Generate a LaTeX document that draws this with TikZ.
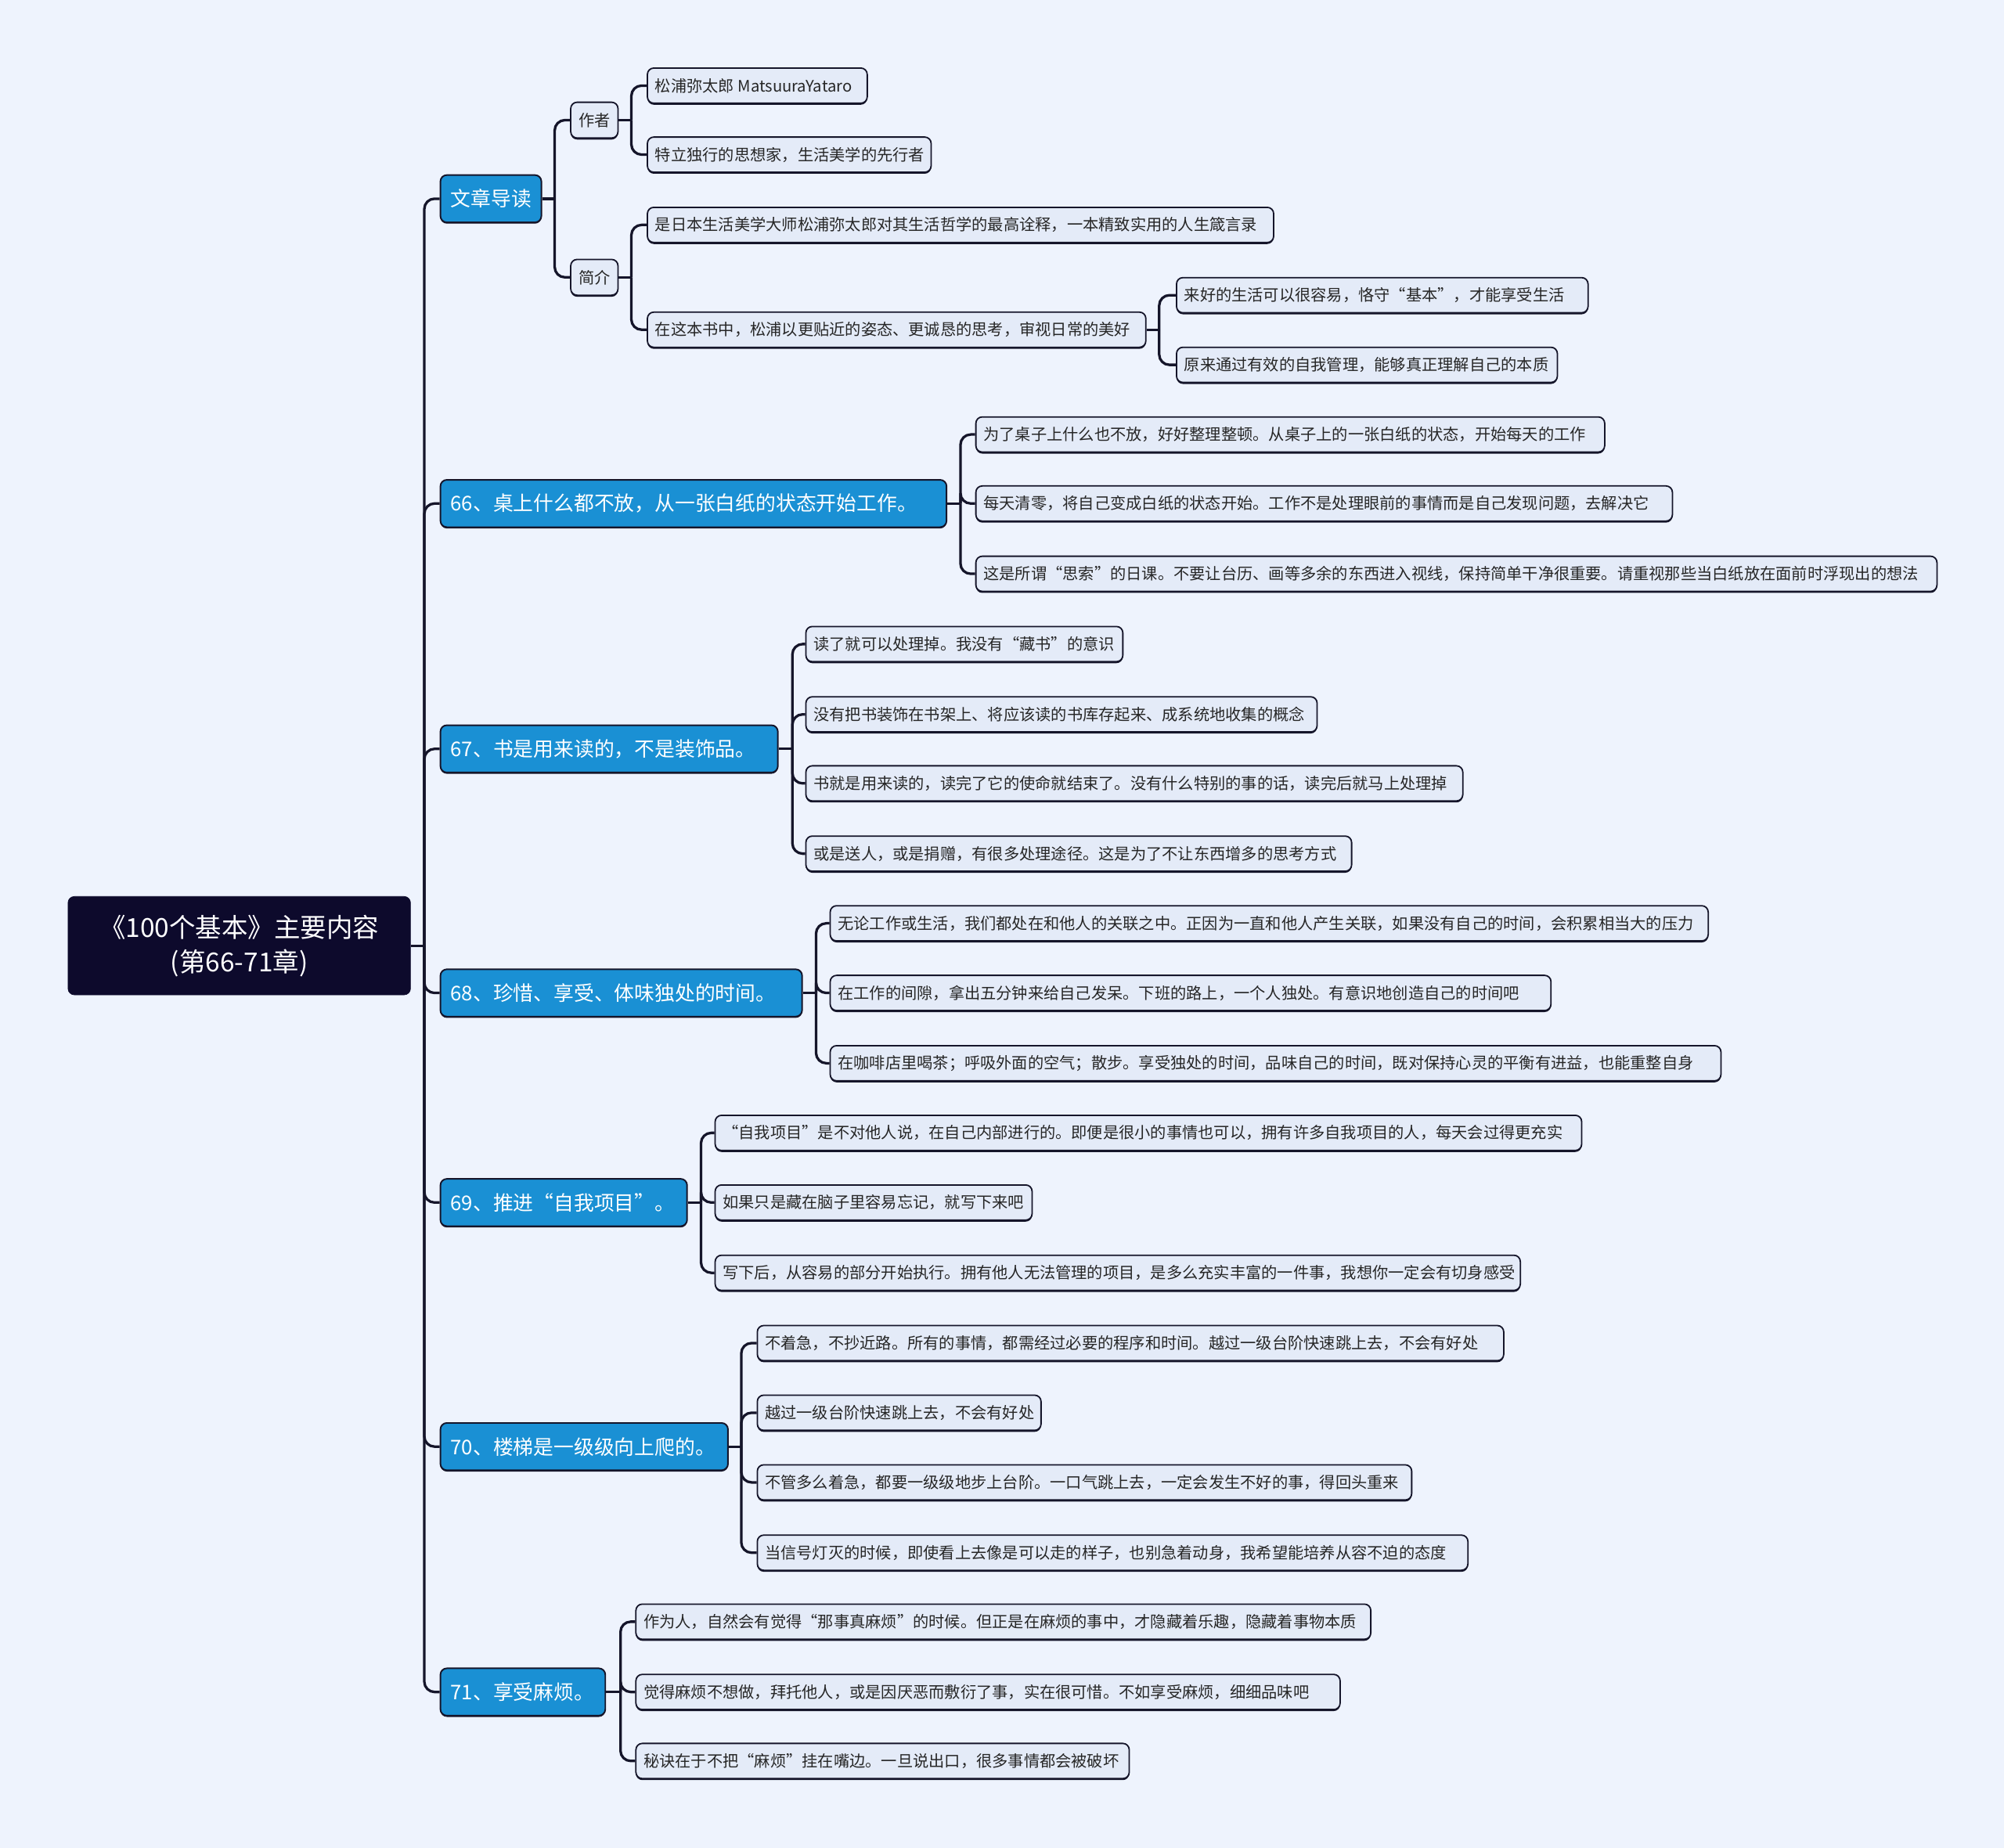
\documentclass[tikz,border=0pt]{standalone}
\usepackage{fontspec}
\setmainfont{Noto Sans CJK SC}
\usetikzlibrary{shadows}
\definecolor{bgc}{HTML}{EEF3FD}
\definecolor{leaffill}{HTML}{E4EBF8}
\definecolor{mainblue}{HTML}{1A90D4}
\definecolor{rootc}{HTML}{0D0A2C}
\definecolor{linec}{HTML}{15152A}
% leaf node: name, position, width, text
\newcommand\LN[4]{\node[leafbox, minimum width=#3pt] (#1) at (#2) {\makebox[\dimexpr#3pt-12pt\relax][l]{#4}};}
% topic node: name, position, width, text
\newcommand\TN[4]{\node[topicbox, minimum width=#3pt] (#1) at (#2) {\makebox[\dimexpr#3pt-16pt\relax][l]{#4}};}
\begin{document}
\begin{tikzpicture}[x=1pt,y=-1pt,
  rootbox/.style={fill=rootc, draw=rootc, rounded corners=5pt, text=white,
    font=\fontsize{20.5}{27}\selectfont, align=center, minimum height=77pt,
    inner sep=0pt, anchor=west},
  topicbox/.style={fill=mainblue, draw=linec, line width=1.2pt, rounded corners=5pt,
    text=white, font=\fontsize{15.8}{18}\selectfont, minimum height=37pt,
    inner sep=0pt, anchor=west, general shadow={fill=linec, shadow yshift=-1pt}},
  leafbox/.style={fill=leaffill, draw=linec, line width=1.1pt, rounded corners=5pt,
    text=black!85, font=\fontsize{12.4}{14}\selectfont, minimum height=27.5pt,
    inner sep=0pt, anchor=west, general shadow={fill=linec, shadow yshift=-1.2pt}},
  conn/.style={draw=linec, line width=2pt, rounded corners=8pt},
]
\fill[bgc] (0,0) rectangle (1568,1446);
\useasboundingbox (0,0) rectangle (1568,1446);

% root
\node[rootbox, minimum width=268pt] (root) at (53,740) {《100个基本》主要内容\\(第66-71章)};

% level 1
\TN{t0}{344,155.5}{79}{文章导读}
\TN{t1}{344,394}{396}{66、桌上什么都不放，从一张白纸的状态开始工作。}
\TN{t2}{344,586}{264}{67、书是用来读的，不是装饰品。}
\TN{t3}{344,777}{283}{68、珍惜、享受、体味独处的时间。}
\TN{t4}{344,941}{193}{69、推进“自我项目”。}
\TN{t5}{344,1132}{225}{70、楼梯是一级级向上爬的。}
\TN{t6}{344,1324}{129}{71、享受麻烦。}

% level 2 under 文章导读
\node[leafbox, minimum width=37pt, minimum height=28pt] (s1) at (446,94) {作者};
\node[leafbox, minimum width=37pt, minimum height=28pt] (s2) at (446,217) {简介};

\LN{a1}{506,67}{172}{松浦弥太郎 MatsuuraYataro}
\LN{a2}{506,121}{222}{特立独行的思想家，生活美学的先行者}
\LN{b1}{506,176}{490}{是日本生活美学大师松浦弥太郎对其生活哲学的最高诠释，一本精致实用的人生箴言录}
\LN{b2}{506,258}{390}{在这本书中，松浦以更贴近的姿态、更诚恳的思考，审视日常的美好}
\LN{c1}{920,231}{322}{来好的生活可以很容易，恪守“基本”，才能享受生活}
\LN{c2}{920,285.5}{298}{原来通过有效的自我管理，能够真正理解自己的本质}

% 66
\LN{d1}{763,340}{492}{为了桌子上什么也不放，好好整理整顿。从桌子上的一张白纸的状态，开始每天的工作}
\LN{d2}{763,394}{545}{每天清零，将自己变成白纸的状态开始。工作不是处理眼前的事情而是自己发现问题，去解决它}
\LN{d3}{763,449}{752}{这是所谓“思索”的日课。不要让台历、画等多余的东西进入视线，保持简单干净很重要。请重视那些当白纸放在面前时浮现出的想法}

% 67
\LN{e1}{630,504}{248}{读了就可以处理掉。我没有“藏书”的意识}
\LN{e2}{630,559}{400}{没有把书装饰在书架上、将应该读的书库存起来、成系统地收集的概念}
\LN{e3}{630,613}{514}{书就是用来读的，读完了它的使命就结束了。没有什么特别的事的话，读完后就马上处理掉}
\LN{e4}{630,668}{427}{或是送人，或是捐赠，有很多处理途径。这是为了不让东西增多的思考方式}

% 68
\LN{f1}{649,722.5}{687}{无论工作或生活，我们都处在和他人的关联之中。正因为一直和他人产生关联，如果没有自己的时间，会积累相当大的压力}
\LN{f2}{649,777}{564}{在工作的间隙，拿出五分钟来给自己发呆。下班的路上，一个人独处。有意识地创造自己的时间吧}
\LN{f3}{649,832}{697}{在咖啡店里喝茶；呼吸外面的空气；散步。享受独处的时间，品味自己的时间，既对保持心灵的平衡有进益，也能重整自身}

% 69
\LN{g1}{559,886.5}{678}{“自我项目”是不对他人说，在自己内部进行的。即便是很小的事情也可以，拥有许多自我项目的人，每天会过得更充实}
\LN{g2}{559,941}{248}{如果只是藏在脑子里容易忘记，就写下来吧}
\LN{g3}{559,996}{630}{写下后，从容易的部分开始执行。拥有他人无法管理的项目，是多么充实丰富的一件事，我想你一定会有切身感受}

% 70
\LN{h1}{592,1051}{584}{不着急，不抄近路。所有的事情，都需经过必要的程序和时间。越过一级台阶快速跳上去，不会有好处}
\LN{h2}{592,1105.5}{222}{越过一级台阶快速跳上去，不会有好处}
\LN{h3}{592,1160}{512}{不管多么着急，都要一级级地步上台阶。一口气跳上去，一定会发生不好的事，得回头重来}
\LN{h4}{592,1215}{556}{当信号灯灭的时候，即使看上去像是可以走的样子，也别急着动身，我希望能培养从容不迫的态度}

% 71
\LN{i1}{497,1269}{575}{作为人，自然会有觉得“那事真麻烦”的时候。但正是在麻烦的事中，才隐藏着乐趣，隐藏着事物本质}
\LN{i2}{497,1324}{551}{觉得麻烦不想做，拜托他人，或是因厌恶而敷衍了事，实在很可惜。不如享受麻烦，细细品味吧}
\LN{i3}{497,1378}{386}{秘诀在于不把“麻烦”挂在嘴边。一旦说出口，很多事情都会被破坏}

% junctions
\coordinate (rj) at (332,740);
\coordinate (t0j) at (434,155.5);
\coordinate (s1j) at (494,94);
\coordinate (s2j) at (494,217);
\coordinate (b2j) at (907,258);
\coordinate (t1j) at (751.5,394);
\coordinate (t2j) at (620,586);
\coordinate (t3j) at (638.5,777);
\coordinate (t4j) at (548.5,941);
\coordinate (t5j) at (580,1132);
\coordinate (t6j) at (485.5,1324);

\draw[conn] (root.east) -- (rj);
\foreach \c in {t0,t1,t2,t3,t4,t5,t6} \draw[conn] (rj) |- (\c.west);
\draw[conn] (t0.east) -- (t0j);
\foreach \c in {s1,s2} \draw[conn] (t0j) |- (\c.west);
\draw[conn] (s1.east) -- (s1j);
\foreach \c in {a1,a2} \draw[conn] (s1j) |- (\c.west);
\draw[conn] (s2.east) -- (s2j);
\foreach \c in {b1,b2} \draw[conn] (s2j) |- (\c.west);
\draw[conn] (b2.east) -- (b2j);
\foreach \c in {c1,c2} \draw[conn] (b2j) |- (\c.west);
\draw[conn] (t1.east) -- (t1j);
\foreach \c in {d1,d2,d3} \draw[conn] (t1j) |- (\c.west);
\draw[conn] (t2.east) -- (t2j);
\foreach \c in {e1,e2,e3,e4} \draw[conn] (t2j) |- (\c.west);
\draw[conn] (t3.east) -- (t3j);
\foreach \c in {f1,f2,f3} \draw[conn] (t3j) |- (\c.west);
\draw[conn] (t4.east) -- (t4j);
\foreach \c in {g1,g2,g3} \draw[conn] (t4j) |- (\c.west);
\draw[conn] (t5.east) -- (t5j);
\foreach \c in {h1,h2,h3,h4} \draw[conn] (t5j) |- (\c.west);
\draw[conn] (t6.east) -- (t6j);
\foreach \c in {i1,i2,i3} \draw[conn] (t6j) |- (\c.west);
\end{tikzpicture}
\end{document}
